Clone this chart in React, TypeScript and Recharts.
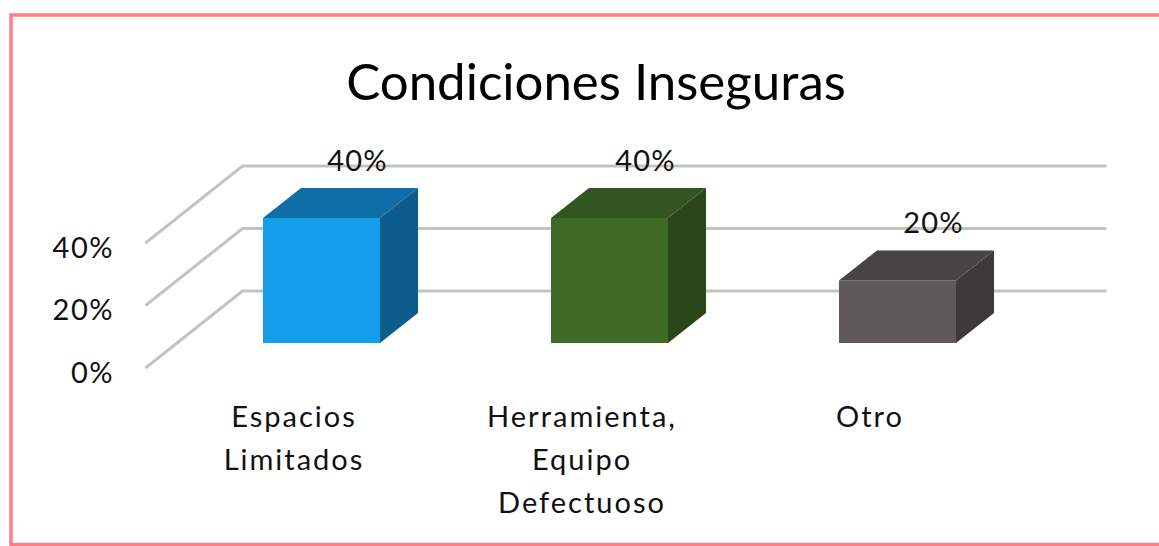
import React from "react";
import { BarChart, Bar, XAxis, YAxis, CartesianGrid, Cell, LabelList } from "recharts";

const TITLE = "Condiciones Inseguras";
const CATEGORIES = ["Espacios\nLimitados", "Herramienta,\nEquipo\nDefectuoso", "Otro"];
const VALUES = [0.4, 0.4, 0.2];
const Y_TICKS = [0, 0.2, 0.4];

const data = CATEGORIES.map((name, i) => ({ name, value: VALUES[i] }));

const FONT = "Lato, 'Open Sans', sans-serif";
const FRONT_COLORS = ["#149ee9", "#406b27", "#5e5a59"];
const TOP_COLORS = ["#0f6ea6", "#325620", "#484443"];
const SIDE_COLORS = ["#0c5d8d", "#2b4719", "#3d3a39"];

// perspective offsets relative to the bar front plane
const FLOOR_FRONT = { dx: -31.5, dy: 25 };
const WALL_BACK = { dx: 65.5, dy: -52 };
const BAR_DEPTH = { dx: 38, dy: -30 };

const pct = (v: number) => `${Math.round(v * 100)}%`;

function Bar3D(props: any) {
  const { x, y, width, height, index } = props;
  const dx = BAR_DEPTH.dx;
  const dy = BAR_DEPTH.dy;
  const top = `${x},${y} ${x + dx},${y + dy} ${x + width + dx},${y + dy} ${x + width},${y}`;
  const side = `${x + width},${y} ${x + width + dx},${y + dy} ${x + width + dx},${y + height + dy} ${x + width},${y + height}`;
  return (
    <g>
      <rect x={x} y={y} width={width} height={height} fill={FRONT_COLORS[index]} />
      <polygon points={top} fill={TOP_COLORS[index]} />
      <polygon points={side} fill={SIDE_COLORS[index]} />
    </g>
  );
}

function GridLine(props: any) {
  const { x1, x2, y1 } = props;
  const fx = x1 + FLOOR_FRONT.dx;
  const fy = y1 + FLOOR_FRONT.dy;
  const bx = x1 + WALL_BACK.dx;
  const by = y1 + WALL_BACK.dy;
  const ex = x2 + WALL_BACK.dx;
  return (
    <g>
      <polyline
        points={`${fx},${fy} ${bx},${by} ${ex},${by}`}
        fill="none"
        stroke="#c3c3c3"
        strokeWidth={3}
      />
    </g>
  );
}

function YTick(props: any) {
  const { x, y, payload } = props;
  return (
    <text
      x={x - 63}
      y={y + FLOOR_FRONT.dy + 3}
      textAnchor="end"
      dominantBaseline="central"
      fontFamily={FONT}
      fontSize={29}
      letterSpacing={1.5}
      fill="#111"
    >
      {pct(payload.value)}
    </text>
  );
}

function XTick(props: any) {
  const { x, y, payload } = props;
  const lines = String(payload.value).split("\n");
  return (
    <g>
      {lines.map((ln, i) => (
        <text
          key={i}
          x={x - 27}
          y={y + 72 + i * 43}
          textAnchor="middle"
          dominantBaseline="central"
          fontFamily={FONT}
          fontSize={29}
          letterSpacing={2}
          fill="#111"
        >
          {ln}
        </text>
      ))}
    </g>
  );
}

function ValueLabel(props: any) {
  const { x, y, width, value } = props;
  return (
    <text
      x={Number(x) + Number(width) / 2 + 36}
      y={Number(y) + BAR_DEPTH.dy - 29}
      textAnchor="middle"
      dominantBaseline="central"
      fontFamily={FONT}
      fontSize={29}
      letterSpacing={1.2}
      fill="#111"
    >
      {pct(Number(value))}
    </text>
  );
}

export default function App() {
  return (
    <div style={{ position: "absolute", left: 0, top: 0, width: 1159, height: 546, background: "#fff" }}>
      <BarChart
        width={1159}
        height={546}
        data={data}
        margin={{ top: 218, right: 118, bottom: 173, left: 117 }}
      >
        <CartesianGrid vertical={false} horizontal={(p: any) => <GridLine {...p} />} />
        <XAxis
          dataKey="name"
          height={30}
          axisLine={false}
          tickLine={false}
          tickSize={0}
          tickMargin={0}
          interval={0}
          tick={<XTick />}
        />
        <YAxis
          width={60}
          domain={[0, 0.4]}
          ticks={Y_TICKS}
          axisLine={false}
          tickLine={false}
          tickSize={0}
          tickMargin={0}
          tick={<YTick />}
        />
        <Bar dataKey="value" barSize={117} shape={<Bar3D />} isAnimationActive={false}>
          {data.map((d, i) => (
            <Cell key={d.name} fill={FRONT_COLORS[i]} />
          ))}
          <LabelList dataKey="value" content={<ValueLabel />} />
        </Bar>
      </BarChart>
      <svg
        width={1159}
        height={546}
        style={{ position: "absolute", left: 0, top: 0, pointerEvents: "none" }}
      >
        <text x={596} y={100} textAnchor="middle" fontFamily={FONT} fontSize={51} fill="#000">
          {TITLE}
        </text>
        <polyline
          points="1170,15 11,15 11,544.5 1170,544.5"
          fill="none"
          stroke="#ff7d85"
          strokeWidth={3.5}
        />
      </svg>
    </div>
  );
}
